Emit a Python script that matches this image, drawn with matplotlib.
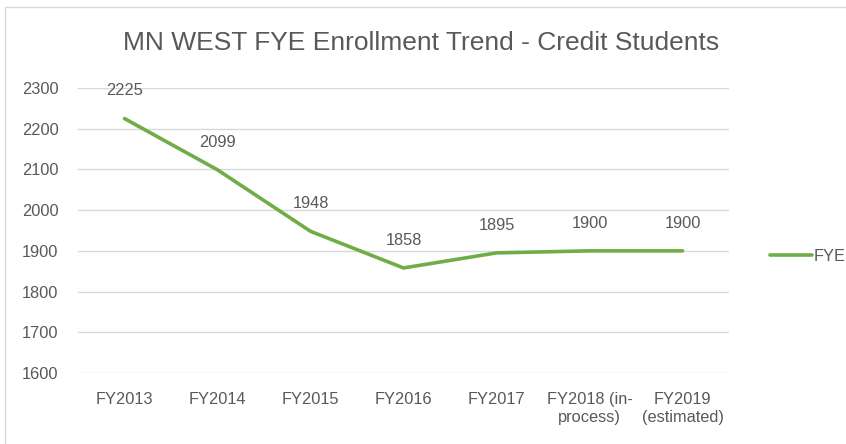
import matplotlib
matplotlib.use("Agg")
import matplotlib.pyplot as plt
from matplotlib.patches import Rectangle

plt.rcParams['font.family'] = ['Liberation Sans', 'DejaVu Sans']

categories = ["FY2013", "FY2014", "FY2015", "FY2016", "FY2017",
              "FY2018 (in-\nprocess)", "FY2019\n(estimated)"]
fye = [2225, 2099, 1948, 1858, 1895, 1900, 1900]
yticks = [1600, 1700, 1800, 1900, 2000, 2100, 2200, 2300]

text_col = "#595959"
grid_col = "#d9d9d9"
line_col = "#70ad47"
fs = 11.8

fig = plt.figure(figsize=(8.46, 4.44), dpi=100)
ax = fig.add_axes([78 / 846, 1 - 373 / 444, 651 / 846, 285 / 444])

# chart border
fig.patches.append(Rectangle((5 / 846, -0.1), 1.2, 1 - 7 / 444 + 0.1,
                             transform=fig.transFigure, fill=False,
                             edgecolor=grid_col, linewidth=1))

x = list(range(len(categories)))
ax.plot(x, fye, color=line_col, linewidth=2.6, solid_capstyle="round",
        label="FYE", zorder=3)
for xi, v in zip(x, fye):
    ax.annotate(str(v), (xi, v), xytext=(0, 20), textcoords="offset points",
                ha="center", va="center", fontsize=fs, color=text_col)

ax.set_xlim(-0.5, len(categories) - 0.5)
ax.set_ylim(1600, 2300)
ax.set_yticks(yticks)
ax.set_xticks(x)
ax.set_xticklabels(categories, fontsize=fs, color=text_col, linespacing=1.25)
ax.tick_params(axis="y", labelsize=fs, labelcolor=text_col, length=0, pad=14)
ax.tick_params(axis="x", length=0, pad=14)
ax.grid(axis="y", color=grid_col, linewidth=1)
ax.set_axisbelow(True)
for s in ax.spines.values():
    s.set_visible(False)

fig.text(421 / 846, 1 - 43 / 444, "MN WEST FYE Enrollment Trend - Credit Students",
         ha="center", va="center", fontsize=19, color=text_col)

leg = ax.legend(loc="center left", bbox_to_anchor=(1.04, 0.41), frameon=False,
                fontsize=fs, handlelength=2.6, handletextpad=0.1)
for t in leg.get_texts():
    t.set_color(text_col)

fig.savefig("out.png", dpi=100)
